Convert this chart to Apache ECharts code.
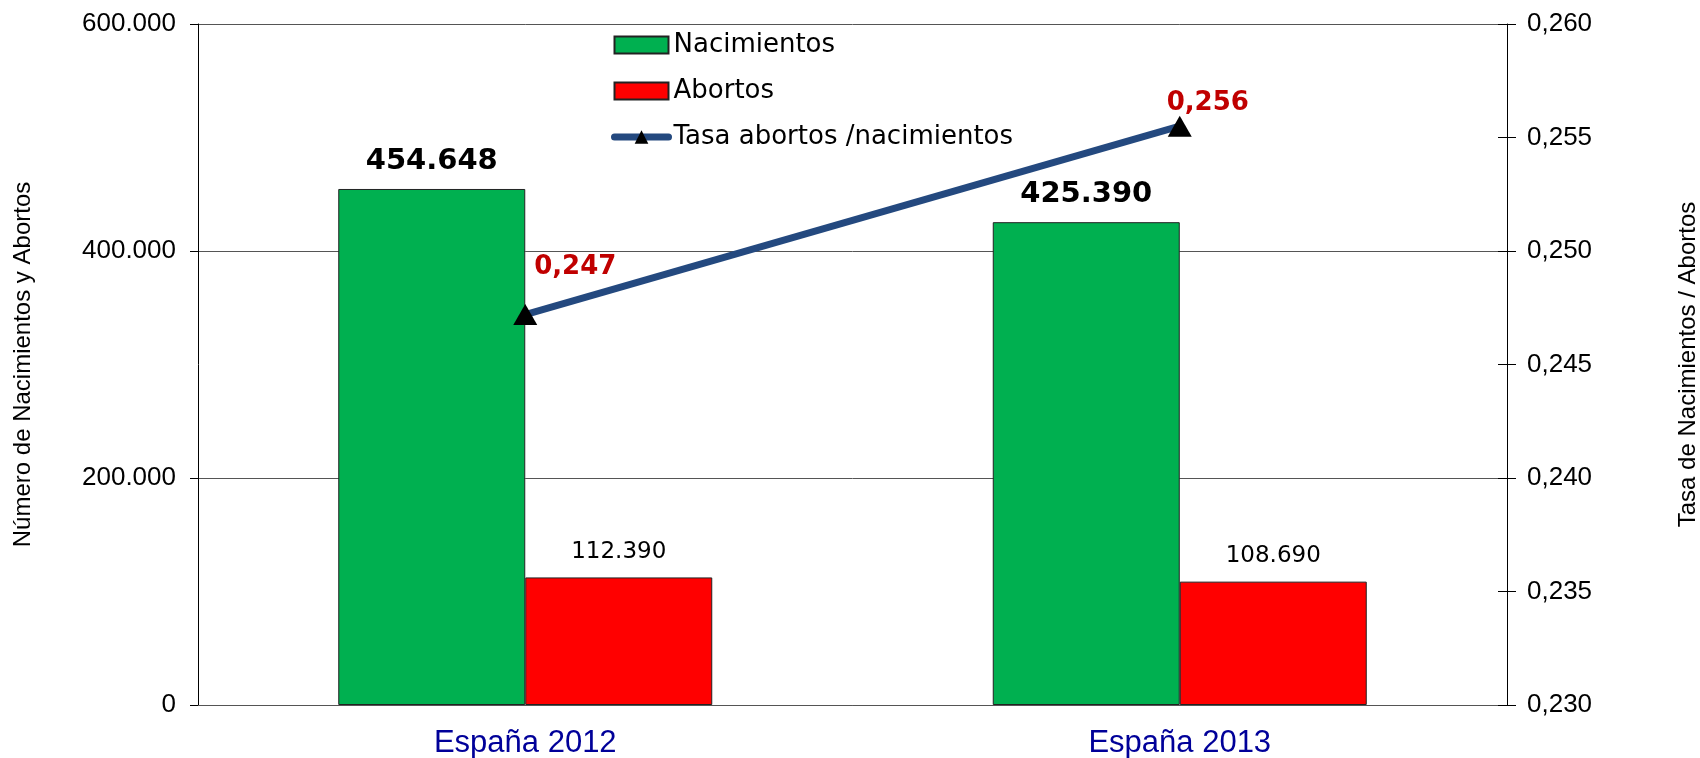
<!DOCTYPE html>
<html>
<head>
<meta charset="utf-8">
<script src="https://cdn.jsdelivr.net/npm/echarts@6/dist/echarts.min.js"></script>
<style>
  html, body { margin: 0; padding: 0; background: #fff; }
  #chart { width: 1700px; height: 758px; }
</style>
</head>
<body>
<div id="chart"></div>
<script>
// datos
const categories = ['España 2012', 'España 2013'];
const nacimientos = [454648, 425390];
const abortos = [112390, 108690];
const tasa = [0.2472, 0.2555];
const leftTicks = [0, 200000, 400000, 600000];
const rightTicks = [0.230, 0.235, 0.240, 0.245, 0.250, 0.255, 0.260];

// desplazamiento de las etiquetas rojas de la tasa
const tasaLabelOffset = [[50, -19], [28, 6]];

const miles = v => String(v).replace(/\B(?=(\d{3})+(?!\d))/g, '.');
const coma = v => v.toFixed(3).replace('.', ',');

const chart = echarts.init(document.getElementById('chart'));

chart.setOption({
  animation: false,
  backgroundColor: '#fff',
  grid: { left: 198, right: 193, top: 24, bottom: 53, outerBoundsMode: 'none' },
  legend: {
    orient: 'vertical',
    left: 606,
    top: 27,
    itemWidth: 54,
    itemHeight: 17,
    itemGap: 20,
    textStyle: { fontFamily: 'DejaVu Sans', fontSize: 26, lineHeight: 26, color: '#000' },
    data: [
      { name: 'Nacimientos', icon: 'rect' },
      { name: 'Abortos', icon: 'rect' },
      {
        name: 'Tasa abortos /nacimientos',
        lineStyle: { color: '#24497F', width: 7, cap: 'round' },
        itemStyle: { color: '#000' }
      }
    ]
  },
  xAxis: {
    type: 'category',
    data: categories,
    axisLine: { lineStyle: { color: '#555', width: 1 } },
    axisTick: { length: 10, lineStyle: { color: '#555' } },
    axisLabel: {
      fontFamily: 'Liberation Sans',
      fontSize: 31,
      color: '#000099',
      margin: 23
    }
  },
  yAxis: [
    {
      type: 'value',
      min: leftTicks[0],
      max: leftTicks[leftTicks.length - 1],
      interval: leftTicks[1] - leftTicks[0],
      name: 'Número de Nacimientos y Abortos',
      nameLocation: 'middle',
      nameGap: 163,
      nameTextStyle: { fontFamily: 'Liberation Sans', fontSize: 24, color: '#000' },
      axisLine: { show: true, lineStyle: { color: '#000', width: 1 } },
      axisTick: { show: true, length: 8, lineStyle: { color: '#000' } },
      axisLabel: {
        fontFamily: 'Liberation Sans',
        fontSize: 26,
        color: '#000',
        margin: 22,
        formatter: miles
      },
      splitLine: { show: true, lineStyle: { color: '#555', width: 1 } }
    },
    {
      type: 'value',
      position: 'right',
      min: rightTicks[0],
      max: rightTicks[rightTicks.length - 1],
      interval: 0.005,
      name: 'Tasa de Nacimientos / Abortos',
      nameLocation: 'middle',
      nameGap: 169,
      nameRotate: 90,
      nameTextStyle: { fontFamily: 'Liberation Sans', fontSize: 24, color: '#000' },
      axisLine: { show: true, lineStyle: { color: '#000', width: 1 } },
      axisTick: { show: true, length: 9, lineStyle: { color: '#000' } },
      axisLabel: {
        fontFamily: 'Liberation Sans',
        fontSize: 26,
        color: '#000',
        margin: 20,
        formatter: coma
      },
      splitLine: { show: false }
    },
    {
      // marcas hacia dentro para que crucen el eje derecho
      type: 'value',
      position: 'right',
      min: rightTicks[0],
      max: rightTicks[rightTicks.length - 1],
      interval: 0.005,
      axisLine: { show: false },
      axisTick: { show: true, inside: true, length: 9, lineStyle: { color: '#000' } },
      axisLabel: { show: false },
      splitLine: { show: false }
    }
  ],
  series: [
    {
      name: 'Nacimientos',
      type: 'bar',
      barWidth: 187,
      barGap: '0%',
      data: nacimientos,
      itemStyle: { color: '#00B050', borderColor: '#222', borderWidth: 1 },
      label: {
        show: true,
        position: 'top',
        distance: 13,
        fontFamily: 'DejaVu Sans',
        fontWeight: 'bold',
        fontSize: 29,
        color: '#000',
        formatter: p => miles(p.value)
      }
    },
    {
      name: 'Abortos',
      type: 'bar',
      barWidth: 187,
      data: abortos,
      itemStyle: { color: '#FF0000', borderColor: '#222', borderWidth: 1 },
      label: {
        show: true,
        position: 'top',
        distance: 14,
        fontFamily: 'DejaVu Sans',
        fontSize: 23,
        color: '#000',
        formatter: p => miles(p.value)
      }
    },
    {
      name: 'Tasa abortos /nacimientos',
      type: 'line',
      yAxisIndex: 1,
      data: tasa.map((v, i) => ({ value: v, label: { offset: tasaLabelOffset[i] } })),
      symbol: 'triangle',
      symbolSize: [24, 21],
      itemStyle: { color: '#000' },
      lineStyle: { color: '#24497F', width: 7 },
      z: 5,
      label: {
        show: true,
        position: 'top',
        fontFamily: 'DejaVu Sans',
        fontWeight: 'bold',
        fontSize: 26,
        color: '#C00000',
        formatter: p => coma(p.value)
      }
    }
  ]
});
</script>
</body>
</html>
